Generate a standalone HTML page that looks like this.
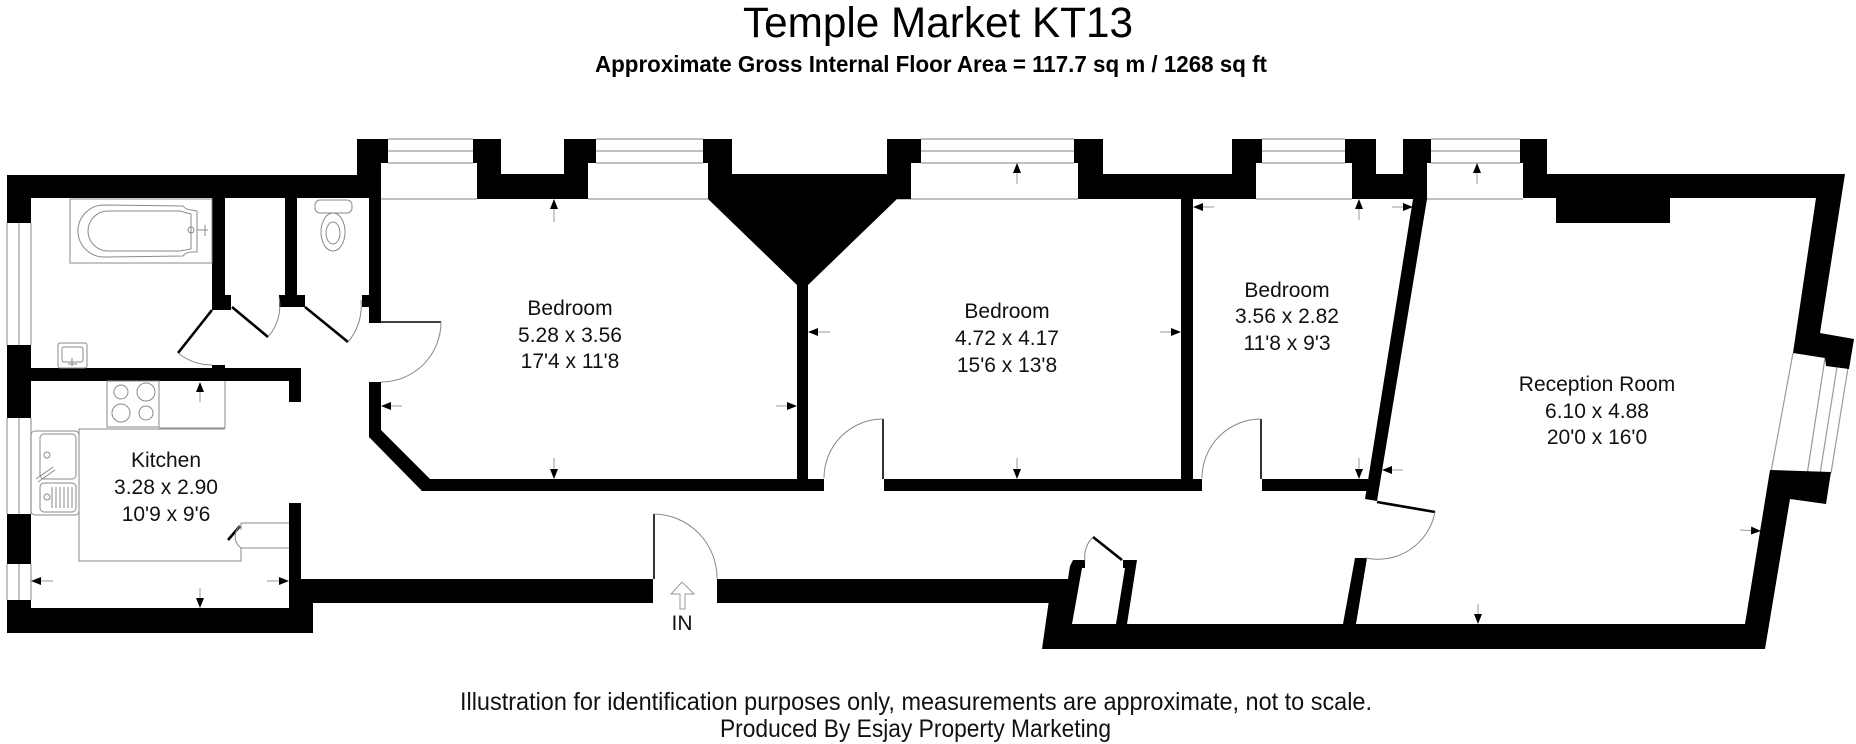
<!DOCTYPE html>
<html>
<head>
<meta charset="utf-8">
<style>
  html,body{margin:0;padding:0;background:#fff;}
  svg{display:block;}
  text{font-family:"Liberation Sans", Arial, sans-serif;}
</style>
</head>
<body>
<svg width="1856" height="744" viewBox="0 0 1856 744" xmlns="http://www.w3.org/2000/svg">
  <defs>
    <marker id="ah" markerWidth="10" markerHeight="8" refX="9" refY="4" orient="auto" markerUnits="userSpaceOnUse">
      <path d="M0,0 L10,4 L0,8 Z" fill="#000"/>
    </marker>
  </defs>
  <rect width="1856" height="744" fill="#fff"/>

  <!-- Titles -->
  <text x="743" y="37" font-size="43" fill="#000" textLength="390" lengthAdjust="spacingAndGlyphs">Temple Market KT13</text>
  <text x="595" y="72" font-size="23" font-weight="bold" fill="#000" textLength="672" lengthAdjust="spacingAndGlyphs">Approximate Gross Internal Floor Area = 117.7 sq m / 1268 sq ft</text>

  <!-- Footer -->
  <text x="460" y="710" font-size="25" fill="#111" textLength="912" lengthAdjust="spacingAndGlyphs">Illustration for identification purposes only, measurements are approximate, not to scale.</text>
  <text x="720" y="737" font-size="25" fill="#111" textLength="391" lengthAdjust="spacingAndGlyphs">Produced By Esjay Property Marketing</text>

  <!-- Window frames (grey lines) -->
  <g stroke="#9a9a9a" stroke-width="1.2" fill="none">
    <!-- top windows -->
    <path d="M388,139H473 M388,151H473 M388,163H473 M381,199H477"/>
    <path d="M596,139H703 M596,151H703 M596,163H703 M588,199H708"/>
    <path d="M921,139H1074 M921,151H1074 M921,163H1074 M897,199H1078"/>
    <path d="M1262,139H1345 M1262,151H1345 M1262,163H1345 M1256,199H1352"/>
    <path d="M1431,139H1520 M1431,151H1520 M1431,163H1520 M1427,199H1523"/>
    <!-- left windows -->
    <path d="M7,223V345 M19,223V345 M31,223V345"/>
    <path d="M7,418V514 M19,418V514 M31,418V514"/>
    <path d="M7,564V600 M19,564V600 M31,564V600"/>
    <!-- bay window -->
    <path d="M1793,353L1771,472 M1825,358L1807,475 M1837,367L1820,474 M1848,368L1831,473"/>
  </g>

  <!-- Walls -->
  <g fill="#000">
    <!-- left block -->
    <rect x="7" y="175" width="374" height="23"/>
    <rect x="7" y="175" width="24" height="48"/>
    <rect x="7" y="345" width="24" height="73"/>
    <rect x="7" y="514" width="24" height="50"/>
    <rect x="7" y="600" width="24" height="33"/>
    <rect x="7" y="608" width="306" height="25"/>
    <rect x="289" y="503" width="12" height="105"/>
    <rect x="289" y="368" width="12" height="34"/>
    <rect x="31" y="368" width="270" height="13"/>
    <rect x="301" y="579" width="352" height="24"/>
    <rect x="301" y="579" width="12" height="54"/>
    <rect x="717" y="579" width="356" height="24"/>
    <!-- bathroom partitions -->
    <rect x="212" y="198" width="13" height="112"/>
    <rect x="225" y="295" width="6" height="15"/>
    <rect x="285" y="198" width="12" height="97"/>
    <rect x="279" y="295" width="26" height="12"/>
    <rect x="362" y="295" width="7" height="12"/>
    <rect x="212" y="365" width="13" height="4"/>
    <!-- hall / WC wall -->
    <rect x="369" y="163" width="12" height="160"/>
    <rect x="357" y="139" width="31" height="24"/>
    <rect x="357" y="160" width="24" height="16"/>
    <polygon points="369,382 381,382 381,430 430,479 824,479 824,491 422,491 369,437"/>
    <!-- bedroom bottom walls -->
    <rect x="884" y="479" width="318" height="12"/>
    <rect x="1262" y="479" width="106" height="12"/>
    <!-- pillar 2 -->
    <polygon points="473,139 501,139 501,174 564,174 564,139 596,139 596,163 588,163 588,199 477,199 477,163 473,163"/>
    <!-- chimney breast -->
    <polygon points="703,139 732,139 732,174 887,174 887,139 921,139 921,163 911,163 911,199 897,199 808,285 808,479 797,479 797,285 708,199 708,163 703,163"/>
    <!-- pillar after bed2 window -->
    <polygon points="1074,139 1103,139 1103,174 1232,174 1232,139 1262,139 1262,163 1256,163 1256,199 1078,199 1078,163 1074,163"/>
    <rect x="1181" y="199" width="12" height="280"/>
    <!-- pillars 4/5 -->
    <polygon points="1345,139 1376,139 1376,174 1403,174 1403,139 1431,139 1431,163 1427,163 1427,199 1352,199 1352,163 1345,163"/>
    <!-- diagonal wall -->
    <polygon points="1413,199 1427,199 1377,501 1365,499"/>
    <!-- pillar 6 + top/right wall -->
    <polygon points="1520,139 1547,139 1547,174 1845,174 1820,333 1854,339 1849,369 1826,366 1825,358 1793,353 1816,198 1523,198 1523,163 1520,163"/>
    <rect x="1556" y="197" width="114" height="26"/>
    <!-- lower right wall + bottom wall -->
    <polygon points="1073,560 1085,560 1085,568 1082,568 1072,624 1745,624 1770,470 1831,472 1826,504 1790,499 1765,649 1042,649 1049,600 1068,579 1070,566"/>
    <!-- cupboard right wall -->
    <polygon points="1123,560 1137,560 1127,624 1116,624 1125,568 1123,568"/>
    <!-- reception door lower wall -->
    <polygon points="1355,558 1367,558 1356,624 1343,624"/>
  </g>

  <!-- Door leaves -->
  <g stroke="#000" stroke-width="2.6" fill="none">
    <line x1="212" y1="310" x2="178" y2="353"/>
    <line x1="232" y1="307" x2="268" y2="337"/>
    <line x1="305" y1="307" x2="348" y2="342"/>
    <line x1="1093" y1="537" x2="1122" y2="560"/>
    <line x1="1377" y1="502" x2="1435" y2="512"/>
    <line x1="228" y1="540" x2="240" y2="526"/>
  </g>
  <g stroke="#000" stroke-width="1.6" fill="none">
    <line x1="381" y1="322" x2="441" y2="322"/>
    <line x1="883" y1="419" x2="883" y2="479"/>
    <line x1="1261" y1="419" x2="1261" y2="479"/>
    <line x1="654" y1="514" x2="654" y2="579"/>
  </g>
  <!-- Door arcs -->
  <g stroke="#888" stroke-width="1" fill="none">
    <path d="M178,353 A55,55 0 0 0 212,365"/>
    <path d="M268,337 A47,47 0 0 0 279,297"/>
    <path d="M348,342 A56,56 0 0 0 361,300"/>
    <path d="M441,322 A60,60 0 0 1 381,382"/>
    <path d="M883,419 A59,59 0 0 0 824,478"/>
    <path d="M1261,419 A59,59 0 0 0 1202,478"/>
    <path d="M654,514 A64,64 0 0 1 717,579"/>
    <path d="M1435,512 A58,58 0 0 1 1366,558"/>
    <path d="M1093,537 A28,28 0 0 0 1085,561"/>
    <path d="M240,526 A14,14 0 0 0 241,548"/>
  </g>

  <!-- Fixtures -->
  <g stroke="#8a8a8a" stroke-width="1" fill="none">
    <!-- bath -->
    <rect x="70" y="199" width="142" height="64"/>
    <path d="M104,205 L183,206 Q186,210 192,210 L197,211 L197,252 L192,252 Q186,252 183,256 L104,257 A26,26 0 0 1 104,205 Z"/>
    <path d="M108,211 L180,211 L191,214 L191,249 L180,251 L108,251 A20,20 0 0 1 108,211 Z"/>
    <circle cx="191" cy="230" r="3"/>
    <path d="M197,230 H208 M205,225 V236"/>
    <!-- toilet -->
    <rect x="315" y="200" width="37" height="13" rx="5"/>
    <ellipse cx="333" cy="232" rx="12" ry="19"/>
    <ellipse cx="333" cy="233" rx="7" ry="11"/>
    <!-- basin -->
    <rect x="58" y="343" width="29" height="25" rx="2"/>
    <rect x="62" y="347" width="21" height="15" rx="2"/>
    <path d="M72,358 V366 M68,364 H77"/>
    <!-- hob -->
    <rect x="107" y="381" width="52" height="46"/>
    <circle cx="121" cy="392" r="7"/>
    <circle cx="146" cy="392" r="9"/>
    <circle cx="121" cy="413" r="9"/>
    <circle cx="146" cy="413" r="7"/>
    <path d="M159,428 H225 V381 M225,429 H79 V561 H241 V548 M241,523 H289 M241,548 H289 M241,523 V530"/>
    <!-- sink -->
    <rect x="31" y="431" width="48" height="84" rx="4"/>
    <rect x="40" y="434" width="36" height="45" rx="4"/>
    <rect x="40" y="483" width="36" height="29" rx="4"/>
    <circle cx="47" cy="455" r="3"/>
    <circle cx="47" cy="497" r="3"/>
    <path d="M36,479 L53,467 M38,482 L55,470"/>
    <path d="M52,487 V508 M56,487 V508 M60,487 V508 M64,487 V508 M68,487 V508 M72,487 V508"/>
  </g>

  <!-- Dimension arrows -->
  <g stroke="#999" stroke-width="1" marker-end="url(#ah)">
    <line x1="200" y1="402" x2="200" y2="383"/>
    <line x1="53" y1="581" x2="32" y2="581"/>
    <line x1="267" y1="581" x2="288" y2="581"/>
    <line x1="200" y1="588" x2="200" y2="607"/>
    <line x1="402" y1="406" x2="382" y2="406"/>
    <line x1="554" y1="222" x2="554" y2="200"/>
    <line x1="776" y1="406" x2="796" y2="406"/>
    <line x1="554" y1="458" x2="554" y2="478"/>
    <line x1="1017" y1="184" x2="1017" y2="164"/>
    <line x1="830" y1="332" x2="809" y2="332"/>
    <line x1="1160" y1="332" x2="1180" y2="332"/>
    <line x1="1017" y1="458" x2="1017" y2="478"/>
    <line x1="1214" y1="207" x2="1194" y2="207"/>
    <line x1="1359" y1="220" x2="1359" y2="200"/>
    <line x1="1392" y1="207" x2="1412" y2="207"/>
    <line x1="1359" y1="458" x2="1359" y2="478"/>
    <line x1="1477" y1="184" x2="1477" y2="164"/>
    <line x1="1403" y1="470" x2="1383" y2="470"/>
    <line x1="1740" y1="530" x2="1760" y2="531"/>
    <line x1="1478" y1="604" x2="1478" y2="623"/>
  </g>

  <!-- IN arrow -->
  <path d="M680,609 V594 H671 L682,582 L694,594 H685 V609 Z" fill="none" stroke="#999" stroke-width="1"/>
  <text x="682" y="630" font-size="21" fill="#111" text-anchor="middle">IN</text>

  <!-- Room labels -->
  <g font-size="21" fill="#111" text-anchor="middle">
    <text x="570" y="315">Bedroom</text>
    <text x="570" y="342">5.28 x 3.56</text>
    <text x="570" y="368">17'4 x 11'8</text>

    <text x="1007" y="318">Bedroom</text>
    <text x="1007" y="345">4.72 x 4.17</text>
    <text x="1007" y="372">15'6 x 13'8</text>

    <text x="1287" y="297">Bedroom</text>
    <text x="1287" y="323">3.56 x 2.82</text>
    <text x="1287" y="350">11'8 x 9'3</text>

    <text x="1597" y="391">Reception Room</text>
    <text x="1597" y="418">6.10 x 4.88</text>
    <text x="1597" y="444">20'0 x 16'0</text>

    <text x="166" y="467">Kitchen</text>
    <text x="166" y="494">3.28 x 2.90</text>
    <text x="166" y="521">10'9 x 9'6</text>
  </g>
</svg>
</body>
</html>
